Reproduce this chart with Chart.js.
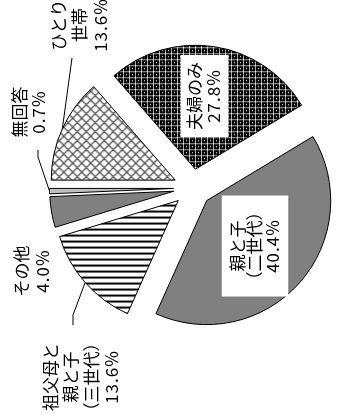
<!DOCTYPE html>
<html>
<head>
<meta charset="utf-8">
<script src="https://cdn.jsdelivr.net/npm/chart.js@4/dist/chart.umd.min.js"></script>
<style>
  html, body { margin: 0; padding: 0; background: #fff; }
  #wrap { width: 337px; height: 416px; }
</style>
</head>
<body>
<div id="wrap"><canvas id="pie" width="337" height="416"></canvas></div>
<script>
// data
const categories = ["ひとり世帯", "夫婦のみ", "親と子（二世代）", "祖父母と親と子（三世代）", "その他", "無回答"];
const shares = [13.6, 27.8, 40.4, 13.6, 4.0, 0.7];
const labelLines = [
  ["ひとり", "世帯"],
  ["夫婦のみ"],
  ["親と子", "（二世代）"],
  ["祖父母と", "親と子", "（三世代）"],
  ["その他"],
  ["無回答"],
];

// layout of the rotated labels (block centre, line pitch, white box)
const labelLayout = [
  { x: 79.5, y: 25, pitch: 21 },
  { x: 204.5, y: 96, pitch: 19, box: [5, 7] },
  { x: 255, y: 246, pitch: 17.5, box: [7, 8] },
  { x: 81, y: 377, pitch: 20.5 },
  { x: 32, y: 271, pitch: 21 },
  { x: 29.5, y: 112, pitch: 19 },
];
// leader lines: label side points, then the slice's outer arc midpoint
const leaders = {
  0: [[72, 58]],
  5: [[38, 150], [38, 157]],
  3: [[73, 325], [73, 315]],
};
const EXPLODE = 19;

// fill patterns
function makePattern(w, h, paint) {
  const c = document.createElement("canvas");
  c.width = w;
  c.height = h;
  const g = c.getContext("2d");
  paint(g, w, h);
  return g.createPattern(c, "repeat");
}

const lattice = makePattern(9, 9, (g, w, h) => {
  g.fillStyle = "#fff";
  g.fillRect(0, 0, w, h);
  g.strokeStyle = "#555";
  g.lineWidth = 1.3;
  g.beginPath();
  for (let k = -1; k <= 1; k++) {
    g.moveTo(k * w, 0);
    g.lineTo(k * w + w, h);
    g.moveTo(k * w + w, 0);
    g.lineTo(k * w, h);
  }
  g.stroke();
});

const dense = makePattern(6, 6, (g, w, h) => {
  g.fillStyle = "#000";
  g.fillRect(0, 0, w, h);
  g.fillStyle = "#aaa";
  g.fillRect(0, 0, w, 1);
  g.fillRect(0, 0, 1, h);
  g.fillStyle = "#fff";
  g.fillRect(0, 0, 1, 1);
  g.fillRect(3, 3, 1, 1);
});

const stripes = makePattern(6, 6, (g, w, h) => {
  g.fillStyle = "#fff";
  g.fillRect(0, 0, w, h);
  g.fillStyle = "#000";
  g.fillRect(0, 0, w, 2);
});

const fills = [lattice, dense, "#808080", stripes, "#808080", "#c0c0c0"];

// pull every slice out along its middle angle
const explodePlugin = {
  id: "explode",
  beforeDatasetDraw(chart, args) {
    args.meta.data.forEach((arc) => {
      if (arc._exploded) return;
      const draw = arc.draw;
      arc.draw = function (ctx, area) {
        const mid = (this.startAngle + this.endAngle) / 2;
        ctx.save();
        ctx.translate(Math.cos(mid) * EXPLODE, Math.sin(mid) * EXPLODE);
        draw.call(this, ctx, area);
        ctx.restore();
      };
      arc._exploded = true;
    });
  },
};

function spacingFor(t) {
  return /^[0-9.]+%$/.test(t) ? "1px" : "0px";
}

// vertical (rotated) labels, boxes and leader lines
const labelPlugin = {
  id: "rotLabels",
  afterDatasetsDraw(chart) {
    const ctx = chart.ctx;
    const arcs = chart.getDatasetMeta(0).data;
    ctx.save();
    ctx.font = "17px 'Noto Sans CJK JP'";
    ctx.textAlign = "center";
    ctx.textBaseline = "middle";

    // leader lines
    ctx.strokeStyle = "#000";
    ctx.lineWidth = 1;
    Object.keys(leaders).forEach((i) => {
      const a = arcs[i];
      const mid = (a.startAngle + a.endAngle) / 2;
      const ex = a.x + Math.cos(mid) * (EXPLODE + a.outerRadius);
      const ey = a.y + Math.sin(mid) * (EXPLODE + a.outerRadius);
      ctx.beginPath();
      leaders[i].forEach((p, j) => (j ? ctx.lineTo(p[0], p[1]) : ctx.moveTo(p[0], p[1])));
      ctx.lineTo(ex, ey);
      ctx.stroke();
    });

    labelLines.forEach((lines, i) => {
      const all = lines.concat([shares[i].toFixed(1) + "%"]);
      const L = labelLayout[i];
      const n = all.length;
      if (L.box) {
        const len = Math.max(...all.map((t) => {
          ctx.letterSpacing = spacingFor(t);
          return ctx.measureText(t).width;
        }));
        const bw = n * L.pitch + 2 * L.box[0];
        const bh = len + 2 * L.box[1];
        ctx.fillStyle = "#fff";
        ctx.fillRect(L.x - bw / 2, L.y - bh / 2, bw, bh);
      }
      ctx.fillStyle = "#000";
      ctx.save();
      ctx.translate(L.x, L.y);
      ctx.rotate(-Math.PI / 2);
      all.forEach((t, j) => {
        ctx.letterSpacing = spacingFor(t);
        ctx.fillText(t, 0, (j - (n - 1) / 2) * L.pitch);
      });
      ctx.restore();
    });
    ctx.restore();
  },
};

new Chart(document.getElementById("pie"), {
  type: "pie",
  data: {
    labels: categories,
    datasets: [
      {
        data: shares,
        backgroundColor: fills,
        borderColor: "#000",
        borderWidth: 1,
      },
    ],
  },
  options: {
    responsive: false,
    animation: false,
    events: [],
    rotation: -90,
    radius: 124,
    layout: { padding: { left: 48, right: 0, top: 0, bottom: 40 } },
    plugins: {
      legend: { display: false },
      tooltip: { enabled: false },
    },
  },
  plugins: [explodePlugin, labelPlugin],
});
</script>
</body>
</html>
